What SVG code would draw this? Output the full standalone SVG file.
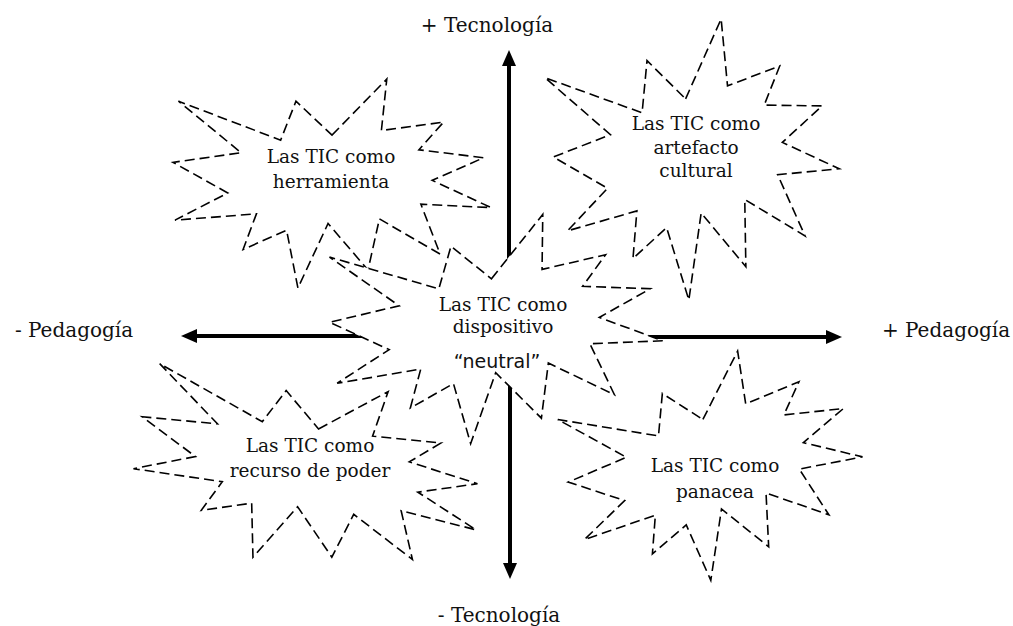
<svg xmlns="http://www.w3.org/2000/svg" xmlns:xlink="http://www.w3.org/1999/xlink" width="1013" height="626" viewBox="0 0 1013 626">
<style>
.star{fill:none;stroke:#000;stroke-width:1.6;stroke-dasharray:10 5;stroke-linejoin:miter}
.starw{fill:#fff;stroke:#000;stroke-width:1.6;stroke-dasharray:10 5}
.lbl{font-family:"DejaVu Serif","Liberation Serif",serif;font-size:18.5px;fill:#111;text-anchor:middle}
.ax{font-family:"DejaVu Serif","Liberation Serif",serif;font-size:20px;fill:#111;text-anchor:middle}
.sans{font-family:"DejaVu Sans","Liberation Sans",sans-serif;font-size:19px;fill:#111;text-anchor:middle}
.arr{stroke:#000;stroke-width:4;fill:none}
</style>
<defs>
<path id="seal" vector-effect="non-scaling-stroke" d="M10800,5800 L14522,0 14155,5325 18380,4457 16702,7315 21097,8137 17607,10475 21600,13290 16837,12942 18145,18095 14020,14457 13247,19737 10532,14935 8485,21600 7715,15627 4762,17617 5667,13937 135,14587 3722,11775 0,8615 4627,7617 370,2295 7312,6320 8352,2295 Z"/>
<marker id="ah" viewBox="0 0 16 14" refX="0" refY="7" markerWidth="16" markerHeight="14" markerUnits="userSpaceOnUse" orient="auto">
<path d="M0,0 L16,7 L0,14 Z" fill="#000"/>
</marker>
</defs>
<rect width="1013" height="626" fill="#fff"/>
<g id="connectors">
<line class="arr" x1="509" y1="330" x2="509" y2="66" marker-end="url(#ah)"/>
<line class="arr" x1="510" y1="330" x2="510" y2="563" marker-end="url(#ah)"/>
<line class="arr" x1="496" y1="336" x2="197" y2="336" marker-end="url(#ah)"/>
<line class="arr" x1="496" y1="337" x2="826" y2="337" marker-end="url(#ah)"/>
</g>
<g id="node-herramienta">
<use xlink:href="#seal" class="star" transform="translate(332,183.5) scale(0.014722,0.009676) translate(-10800,-10800)"/>
<text class="lbl" x="331" y="163">Las TIC como</text>
<text class="lbl" x="331" y="188">herramienta</text>
</g>
<g id="node-artefacto">
<use xlink:href="#seal" class="star" transform="translate(696,161) rotate(-9.5) scale(0.012963,0.012593) translate(-10800,-10800)"/>
<text class="lbl" x="696" y="130">Las TIC como</text>
<text class="lbl" x="696" y="154">artefacto</text>
<text class="lbl" x="696" y="177">cultural</text>
</g>
<g id="node-recurso">
<use xlink:href="#seal" class="star" transform="translate(309.4,472) rotate(12) scale(0.0162,0.0088) translate(-10800,-10800)"/>
<text class="lbl" x="310" y="452">Las TIC como</text>
<text class="lbl" x="310" y="477">recurso de poder</text>
</g>
<g id="node-panacea">
<use xlink:href="#seal" class="star" transform="translate(715,468) rotate(-14) scale(0.0135,0.0100) translate(-10800,-10800)"/>
<text class="lbl" x="715" y="472">Las TIC como</text>
<text class="lbl" x="715" y="498">panacea</text>
</g>
<g id="node-neutral">
<use xlink:href="#seal" class="starw" transform="translate(496,330) rotate(-5.1) scale(0.015278,0.010278) translate(-10800,-10800)"/>
<text class="lbl" x="503" y="311">Las TIC como</text>
<text class="lbl" x="503" y="333">dispositivo</text>
<text class="sans" x="497" y="368">“neutral”</text>
</g>
<g id="axis-labels">
<text class="ax" x="487" y="32">+ Tecnología</text>
<text class="ax" x="499" y="622">- Tecnología</text>
<text class="ax" x="74" y="337">- Pedagogía</text>
<text class="ax" x="946" y="337">+ Pedagogía</text>
</g>
</svg>
